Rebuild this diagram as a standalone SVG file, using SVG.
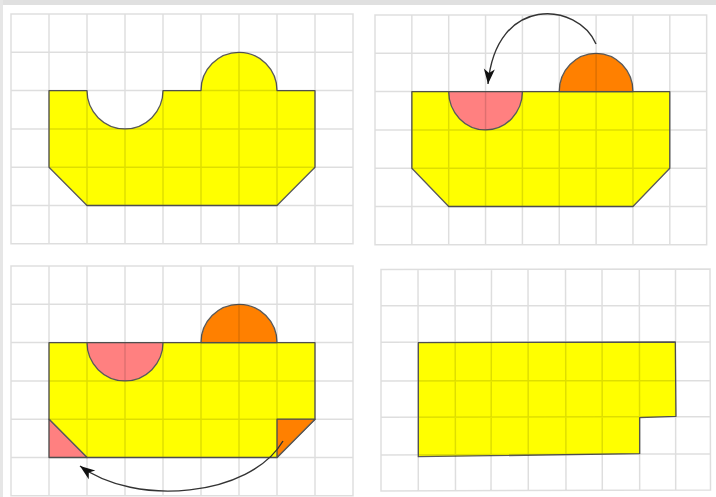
<svg xmlns="http://www.w3.org/2000/svg" width="716" height="497" viewBox="0 0 716 497">
<style>
.grid{fill:none;stroke:#000;stroke-opacity:0.13;stroke-width:1.5}
.shape{stroke:#5a5a5a;stroke-width:1.3;stroke-linejoin:round}
.y{fill:#ffff00}
.p{fill:#ff8080}
.o{fill:#ff8000}
.arrow{fill:none;stroke:#333;stroke-width:1.4}
</style>
<defs>
<marker id="ah" viewBox="-16 -6 17 12" refX="0" refY="0" markerWidth="17" markerHeight="12" markerUnits="userSpaceOnUse" orient="auto">
<path d="M0,0 L-15,-5.5 L-11,0 L-15,5.5 Z" fill="#111"/>
</marker>
</defs>
<rect x="0" y="0" width="716" height="497" fill="#fff"/>
<rect x="0" y="0" width="716" height="5" fill="#e0e0e0"/>
<rect x="0" y="0" width="3" height="497" fill="#e6e6e6"/>

<g id="panel1">
<path class="shape y" d="M49,90.6 H87 A38,38.3 0 0 0 163,90.6 H201 A38,38.3 0 0 1 277,90.6 H315 V167.2 L277,205.5 H87 L49,167.2 Z"/>
<path class="grid" d="M11,14 H353 V243.8 H11 Z M49,14 V243.8 M87,14 V243.8 M125,14 V243.8 M163,14 V243.8 M201,14 V243.8 M239,14 V243.8 M277,14 V243.8 M315,14 V243.8 M11,52.3 H353 M11,90.6 H353 M11,128.9 H353 M11,167.2 H353 M11,205.5 H353"/>
</g>

<g id="panel2">
<path class="shape y" d="M411.85,91.6 H669.8 V168.2 L632.95,206.5 H448.7 L411.85,168.2 Z"/>
<path class="shape p" d="M448.7,91.6 A36.85,38.3 0 0 0 522.4,91.6 Z"/>
<path class="shape o" d="M559.25,91.6 A36.85,38.3 0 0 1 632.95,91.6 Z"/>
<path class="grid" d="M375,15 H706.65 V244.8 H375 Z M411.85,15 V244.8 M448.7,15 V244.8 M485.55,15 V244.8 M522.4,15 V244.8 M559.25,15 V244.8 M596.1,15 V244.8 M632.95,15 V244.8 M669.8,15 V244.8 M375,53.3 H706.65 M375,91.6 H706.65 M375,129.9 H706.65 M375,168.2 H706.65 M375,206.5 H706.65"/>
</g>

<g id="panel3">
<path class="shape y" d="M49,342.6 H315 V419.2 L277,457.5 H87 L49,419.2 Z"/>
<path class="shape p" d="M87,342.6 A38,38.3 0 0 0 163,342.6 Z"/>
<path class="shape o" d="M201,342.6 A38,38.3 0 0 1 277,342.6 Z"/>
<path class="shape p" d="M49,419.2 L87,457.5 H49 Z"/>
<path class="shape o" d="M277,419.2 H315 L277,457.5 Z"/>
<path class="grid" d="M11,266 H353 V495.8 H11 Z M49,266 V495.8 M87,266 V495.8 M125,266 V495.8 M163,266 V495.8 M201,266 V495.8 M239,266 V495.8 M277,266 V495.8 M315,266 V495.8 M11,304.3 H353 M11,342.6 H353 M11,380.9 H353 M11,419.2 H353 M11,457.5 H353"/>
</g>

<g id="panel4">
<path class="shape y" d="M418.3,342.7 L675.3,342 L676,416.3 L639.7,417.7 L639.7,453.7 L418.3,456.7 Z"/>
<path class="grid" d="M381,269.5 L710,269 L710.5,490 L381,491 Z
M418,269.5 L418.3,491 M455,269.5 L455.5,491 M491.5,269.5 L491,491 M528,269.5 L528.3,491 M565.5,269.5 L566,491 M602,269.5 L602.3,490.5 M639.3,269.2 L639.7,490.5 M675.5,269.2 L675.7,490.5
M381,305.8 L710,305.5 M381,342.2 L710,341.8 M381,381 L710,380.5 M381,417.3 L710,416.5 M381,455 L710,453.8"/>
</g>

<g id="connectors">
<path class="arrow" d="M596,44 C578,2 496,-6 488,84" marker-end="url(#ah)"/>
<path class="arrow" d="M283,441 C250,497 135,507 80,466" marker-end="url(#ah)"/>
</g>
</svg>
